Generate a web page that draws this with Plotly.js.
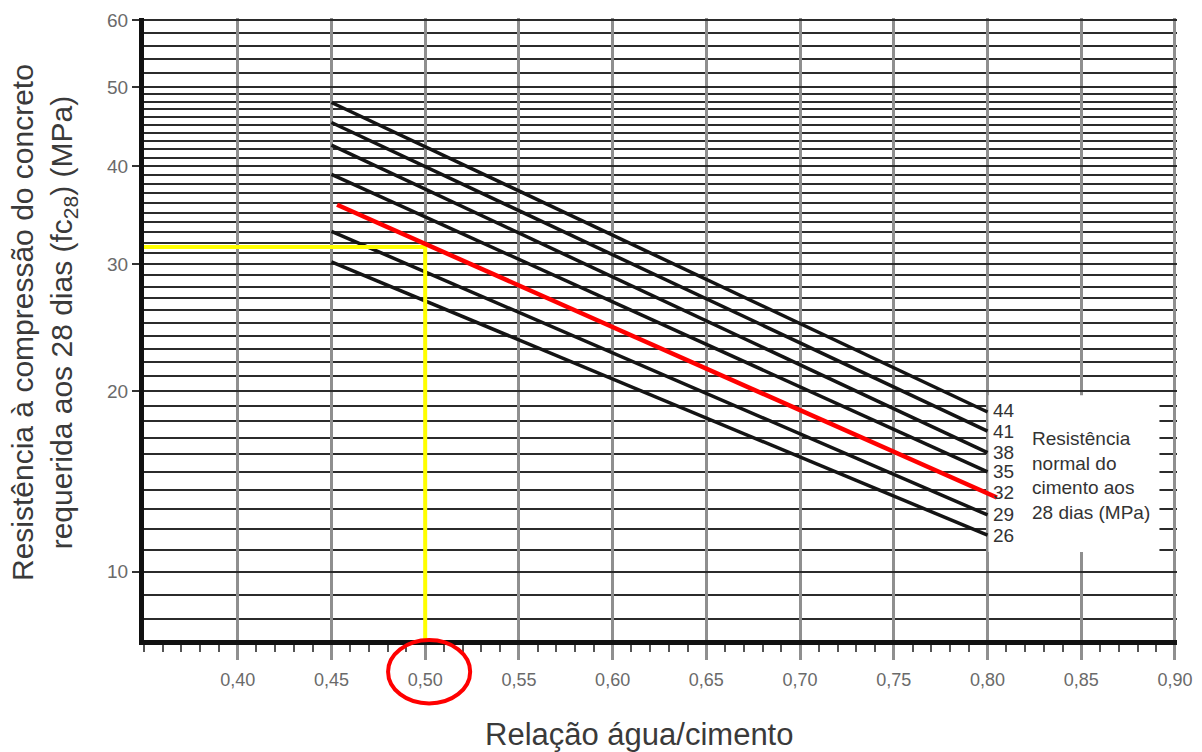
<!DOCTYPE html>
<html><head><meta charset="utf-8">
<script src="https://cdn.plot.ly/plotly-3.0.1.min.js"></script>
<style>html,body{margin:0;padding:0;background:#fff}#chart{width:1202px;height:752px}</style>
</head><body><div id="chart"></div>
<script>
// ---- data ----
const cementStrength = [44, 41, 38, 35, 29, 26];      // MPa, black lines
const lineAC = [0.45, 0.80];                           // water/cement range of curves
const fcAtStart = [47.9, 45.3, 42.5, 39.1, 33.1, 30.2];// fc28 at a/c = 0.45
const fcAtEnd   = [18.6, 17.4, 16.1, 15.0, 12.7, 11.7];// fc28 at a/c = 0.80
const redStrength = 32;                                // highlighted (red) curve
const redAC = [0.453, 0.805];
const redFc = [35.8, 13.6];
const targetFc = 31.6;                                 // yellow guide
const targetAC = 0.50;
const xTickVals = [0.40, 0.45, 0.50, 0.55, 0.60, 0.65, 0.70, 0.75, 0.80, 0.85, 0.90];
const xTickText = ['0,40','0,45','0,50','0,55','0,60','0,65','0,70','0,75','0,80','0,85','0,90'];
const yTickVals = [10, 20, 30, 40, 50, 60];
const yTickText = ['10','20','30','40','50','60'];
const yMin = 7.2, yMax = 60, xMin = 0.35;

// chart's vertical scale behaves as log(fc + 9): use a log axis on shifted values
const OFF = 9;
const sh = v => v + OFF;

// horizontal grid: every 1 MPa up to 50, every 2 MPa up to 60
const yGrid = [];
for (let v = 8; v <= 50; v++) if (yTickVals.indexOf(v) < 0) yGrid.push(v);
for (let v = 52; v < 60; v += 2) yGrid.push(v);

const FONT = 'Liberation Sans, Arial, sans-serif';
const traces = [];

// white box behind the legend text (covers gridlines)
traces.push({x:[0.8005,0.8917,0.8917,0.8005,0.8005], y:[10.9,10.9,19.7,19.7,10.9].map(sh),
  mode:'lines', fill:'toself', fillcolor:'#ffffff', line:{width:0, color:'rgba(0,0,0,0)'},
  hoverinfo:'skip', showlegend:false});

cementStrength.forEach((c, i) => {
  traces.push({x: lineAC, y: [fcAtStart[i], fcAtEnd[i]].map(sh), mode:'lines',
    line:{color:'#141414', width:3.5}, showlegend:false, hoverinfo:'skip'});
});
// yellow guide
traces.push({x:[xMin, targetAC, targetAC], y:[targetFc, targetFc, yMin].map(sh), mode:'lines',
  line:{color:'#ffff00', width:4}, showlegend:false, hoverinfo:'skip'});
// red curve
traces.push({x: redAC, y: redFc.map(sh), mode:'lines', line:{color:'#ff0000', width:4.5},
  showlegend:false, hoverinfo:'skip'});

// labels at curve ends
const annotations = [];
const labelStrengths = cementStrength.slice(0,4).concat([redStrength], cementStrength.slice(4));
const labelEnds = fcAtEnd.slice(0,4).concat([redFc[1]], fcAtEnd.slice(4));
labelStrengths.forEach((c, i) => {
  annotations.push({x: 0.8020, y: Math.log10(sh(labelEnds[i])), xref:'x', yref:'y',
    yshift: c === redStrength ? 5 : (c === 44 ? 2 : 0),
    text: String(c), showarrow:false, xanchor:'left', yanchor:'middle',
    font:{family:FONT, size:19, color:'#333'}});
});
annotations.push({x:0.8228, y:0.2637, xref:'x', yref:'paper', xanchor:'left', yanchor:'middle',
  align:'left', showarrow:false, text:'Resistência<br>normal do<br>cimento aos<br>28 dias (MPa)',
  font:{family:FONT, size:19, color:'#333'}});
annotations.push({x:0.479, y:-0.1527, xref:'paper', yref:'paper', showarrow:false,
  xanchor:'center', yanchor:'middle', text:'Relação água/cimento',
  font:{family:FONT, size:31, color:'#3a3a3a'}});
annotations.push({x:-0.0968, y:0.5096, xref:'paper', yref:'paper', showarrow:false,
  xanchor:'center', yanchor:'middle', textangle:-90,
  text:'Resistência à compressão do concreto<br>requerida aos 28 dias (fc<sub>28</sub>) (MPa)',
  font:{family:FONT, size:30, color:'#3a3a3a'}});

const layout = {
  width:1202, height:752,
  margin:{l:144, r:25, t:18, b:112},
  paper_bgcolor:'#fff', plot_bgcolor:'#fff',
  font:{family:FONT},
  showlegend:false, hovermode:false,
  xaxis:{type:'linear', range:[xMin, 0.90107], tickmode:'array', tickvals:xTickVals, ticktext:xTickText,
    showgrid:true, gridcolor:'#8f8f8f', gridwidth:3, zeroline:false,
    showline:true, linecolor:'#111', linewidth:5,
    ticks:'outside', ticklen:15, tickwidth:3, tickcolor:'#8f8f8f',
    tickfont:{family:FONT, size:18, color:'#6a6a6a'}, ticklabelstandoff:4,
    minor:{tickmode:'linear', tick0:xMin, dtick:0.01, ticks:'outside', ticklen:7, tickwidth:2,
      tickcolor:'#555', showgrid:false}},
  yaxis:{type:'log', range:[Math.log10(sh(yMin)), Math.log10(sh(yMax)) + 0.00203],
    tickmode:'array', tickvals:yTickVals.map(sh), ticktext:yTickText,
    showgrid:true, gridcolor:'#2b2b2b', gridwidth:2, zeroline:false,
    showline:true, linecolor:'#111', linewidth:5,
    ticks:'outside', ticklen:7, tickwidth:2, tickcolor:'#333',
    tickfont:{family:FONT, size:19, color:'#6a6a6a'},
    minor:{tickmode:'array', tickvals:yGrid.map(sh), ticks:'', showgrid:true,
      gridcolor:'#2b2b2b', gridwidth:2}},
  shapes:[{type:'circle', xref:'x', yref:'paper', x0:0.4802, x1:0.5240, y0:-0.1021, y1:0.0,
    line:{color:'#ff0000', width:4}, layer:'above'}],
  annotations: annotations
};
Plotly.newPlot('chart', traces, layout, {displayModeBar:false, staticPlot:true});
</script></body></html>
